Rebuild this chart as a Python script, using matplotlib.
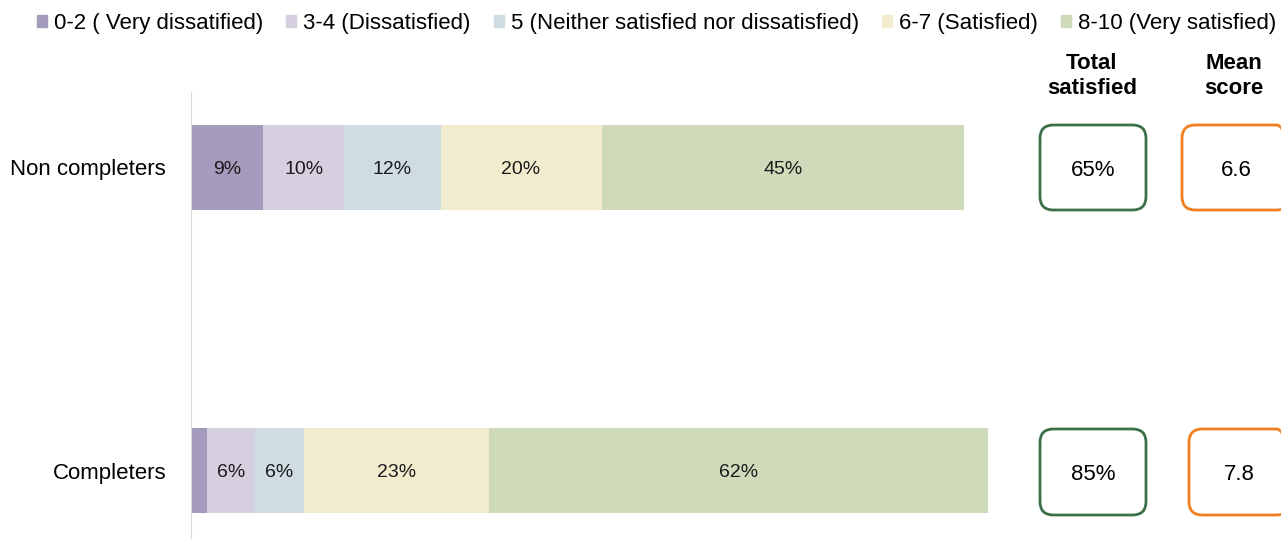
import matplotlib.pyplot as plt
from matplotlib.patches import FancyBboxPatch, Patch

plt.rcParams['font.family'] = ['Liberation Sans', 'DejaVu Sans']

# survey results, bottom row first
groups = ['Completers', 'Non completers']
bands = ['0-2 ( Very dissatified)', '3-4 (Dissatisfied)',
         '5 (Neither satisfied nor dissatisfied)', '6-7 (Satisfied)',
         '8-10 (Very satisfied)']
very_dissat = [2, 9]
dissat = [6, 10]
neither = [6, 12]
satisfied = [23, 20]
very_sat = [62, 45]
total_satisfied = ['85%', '65%']
mean_score = ['7.8', '6.6']

colors = ['#a59bbd', '#d6cfe0', '#cfdce3', '#f2ecce', '#cfdabb']
series = [very_dissat, dissat, neither, satisfied, very_sat]

W, H = 1281, 539
fig = plt.figure(figsize=(W / 100, H / 100), dpi=100)
ax = fig.add_axes([191 / W, 0, 805 / W, (H - 92) / H])

left = [0, 0]
for vals, col in zip(series, colors):
    bars = ax.barh(groups, vals, left=left, height=0.28, color=col)
    for b, v in zip(bars, vals):
        if v >= 5:
            ax.text(b.get_x() + b.get_width() / 2, b.get_y() + b.get_height() / 2,
                    f'{v}%', ha='center', va='center_baseline', fontsize=14,
                    color='#1a1a1a')
    left = [l + v for l, v in zip(left, vals)]

ax.set_xlim(0, 100)
ax.set_ylim(-0.226, 1.249)
ax.set_xticks([])
ax.tick_params(axis='y', length=0, labelsize=16, pad=18)
for s in ['top', 'right', 'bottom']:
    ax.spines[s].set_visible(False)
ax.spines['left'].set_color('#d9d9d9')

# summary boxes on the right (pixel positions from the top edge)
def box(x0, x1, y0, y1, edge, label):
    p = FancyBboxPatch((x0 / W, 1 - y1 / H), (x1 - x0) / W, (y1 - y0) / H,
                       boxstyle='round,pad=0,rounding_size=0.0105',
                       transform=fig.transFigure, fill=False, ec=edge, lw=2,
                       mutation_aspect=W / H)
    fig.add_artist(p)
    fig.text((x0 + x1) / 2 / W, 1 - (y0 + y1) / 2 / H, label,
             ha='center', va='center_baseline', fontsize=16)

box(1040, 1146, 125, 210, '#3b7048', total_satisfied[1])
box(1040, 1146, 429, 515, '#3b7048', total_satisfied[0])
box(1182, 1290, 125, 210, '#f07f22', mean_score[1])
box(1189, 1290, 429, 515, '#f07f22', mean_score[0])

fig.text(1092 / W, 1 - 76 / H, 'Total\nsatisfied', ha='center', va='center',
         fontsize=16, fontweight='bold', linespacing=1.3)
fig.text(1234 / W, 1 - 76 / H, 'Mean\nscore', ha='center', va='center',
         fontsize=16, fontweight='bold', linespacing=1.3)

handles = [Patch(color=c) for c in colors]
fig.legend(handles, bands, loc='center', bbox_to_anchor=(0.5 + 16 / W, 1 - 23 / H),
           ncol=5, frameon=False, fontsize=16, handlelength=0.45, handleheight=0.45,
           handletextpad=0.3, columnspacing=1.05, borderaxespad=0)

fig.savefig('out.png', dpi=100)
